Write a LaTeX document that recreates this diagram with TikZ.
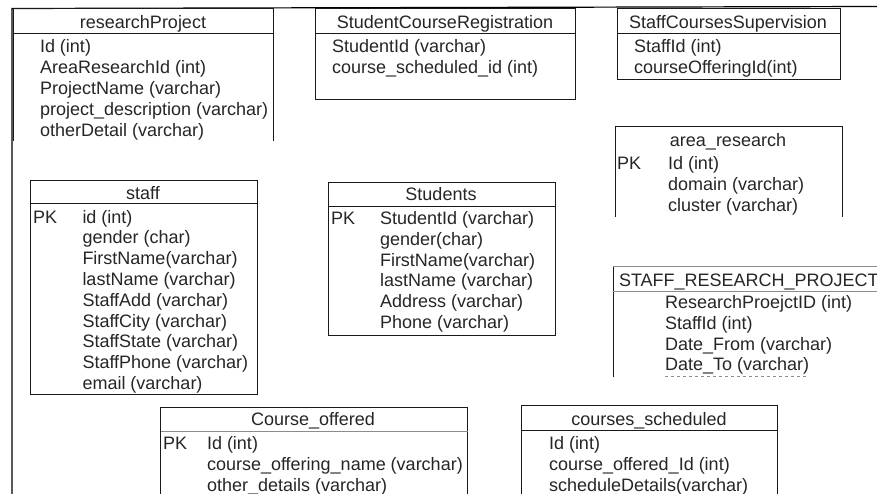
\documentclass[tikz,border=0pt]{standalone}
\usepackage{fontspec}
\setmainfont{Liberation Sans}
\tikzset{
  rowtext/.style={anchor=base west,inner sep=0pt,outer sep=0pt,font=\fontsize{18}{20}\selectfont,text=black!85},
  titletext/.style={anchor=base,inner sep=0pt,outer sep=0pt,font=\fontsize{18}{20}\selectfont,text=black!85},
  rule/.style={draw=black!90,line width=1pt},
  thinrule/.style={draw=black!45,line width=0.9pt}
}
% name, x, first baseline, step, rows
\newcommand{\tablerows}[5]{%
  \foreach \r [count=\i from 0] in {#5}{
    \node[rowtext] (#1-\i) at (#2,{#3+\i*#4}) {\r};
  }}
\begin{document}
\begin{tikzpicture}[x=1pt,y=-1pt]
\useasboundingbox (0,0) rectangle (877,494);
\fill[white] (0,0) rectangle (877,494);
\clip (0,0) rectangle (877,494);
% outer frame
\draw[line width=1.2pt] (877,6.5) -- (12,8.5) -- (12,494);
% researchProject
\draw[rule] (13,141) -- (13,9) -- (273,9) -- (273,141);
\draw[rule] (13,33.5) -- (273,33.5);
\node[titletext] (rp) at (143,29) {researchProject};
\tablerows{rp}{40}{53}{20.8}{Id (int),AreaResearchId (int),ProjectName (varchar),project\_description (varchar),otherDetail (varchar)}
% StudentCourseRegistration
\draw[rule] (315,9) rectangle (575,99.5);
\draw[rule] (315,33.5) -- (575,33.5);
\node[titletext] (scr) at (445,29) {StudentCourseRegistration};
\tablerows{scr}{332}{53}{20.8}{StudentId (varchar),course\_scheduled\_id (int)}
% StaffCoursesSupervision
\draw[rule] (617,9) rectangle (840,79.5);
\draw[rule] (617,33.5) -- (840,33.5);
\node[titletext] (scs) at (728,29) {StaffCoursesSupervision};
\tablerows{scs}{634}{53}{20.8}{StaffId (int),courseOfferingId(int)}
% area_research
\draw[rule] (615,217) -- (615,127) -- (842,127) -- (842,217);
\node[titletext] (ar) at (728,147) {area\_research};
\node[rowtext] (arpk) at (617,170) {PK};
\tablerows{ar}{668}{170}{20.8}{Id (int),domain (varchar),cluster (varchar)}
% staff
\draw[rule] (30.5,181) rectangle (257,394.5);
\draw[rule] (30.5,204) -- (257,204);
\node[titletext] (st) at (143,199.5) {staff};
\node[rowtext] (stpk) at (33,223) {PK};
\tablerows{st}{82.5}{223}{20.8}{id (int),gender (char),FirstName(varchar),lastName (varchar),StaffAdd (varchar),StaffCity (varchar),StaffState (varchar),StaffPhone (varchar),email (varchar)}
% Students
\draw[rule] (328,183) rectangle (555,335.5);
\draw[rule] (328,206.5) -- (555,206.5);
\node[titletext] (su) at (441,201) {Students};
\node[rowtext] (supk) at (331,224.5) {PK};
\tablerows{su}{380}{224.5}{20.8}{StudentId (varchar),gender(char),FirstName(varchar),lastName (varchar),Address (varchar),Phone (varchar)}
% STAFF_RESEARCH_PROJECT
\draw[rule] (613,377) -- (613,267);
\draw[thinrule] (613,266.5) -- (877,266.5);
\draw[thinrule] (613,291) -- (877,291);
\node[rowtext] (srp) at (619,286) {STAFF\_RESEARCH\_PROJECT};
\tablerows{srp}{665}{308.5}{20.8}{ResearchProejctID (int),StaffId (int),Date\_From (varchar),Date\_To (varchar)}
\draw[thinrule,dashed] (665,376.5) -- (808,376.5);
% Course_offered
\draw[rule] (160.5,494) -- (160.5,407) -- (467.5,407) -- (467.5,494);
\draw[thinrule] (160.5,431) -- (467.5,431);
\node[titletext] (co) at (313,425.5) {Course\_offered};
\node[rowtext] (copk) at (163,449) {PK};
\tablerows{co}{207}{449}{21}{Id (int),course\_offering\_name (varchar),other\_details (varchar)}
% courses_scheduled
\draw[rule] (521.5,494) -- (521.5,405.5) -- (777,405.5) -- (777,494);
\draw[rule] (521.5,430) -- (777,430);
\node[titletext] (cs) at (649,425.5) {courses\_scheduled};
\tablerows{cs}{549}{449}{21}{Id (int),course\_offered\_Id (int),scheduleDetails(varchar)}
\end{tikzpicture}
\end{document}
